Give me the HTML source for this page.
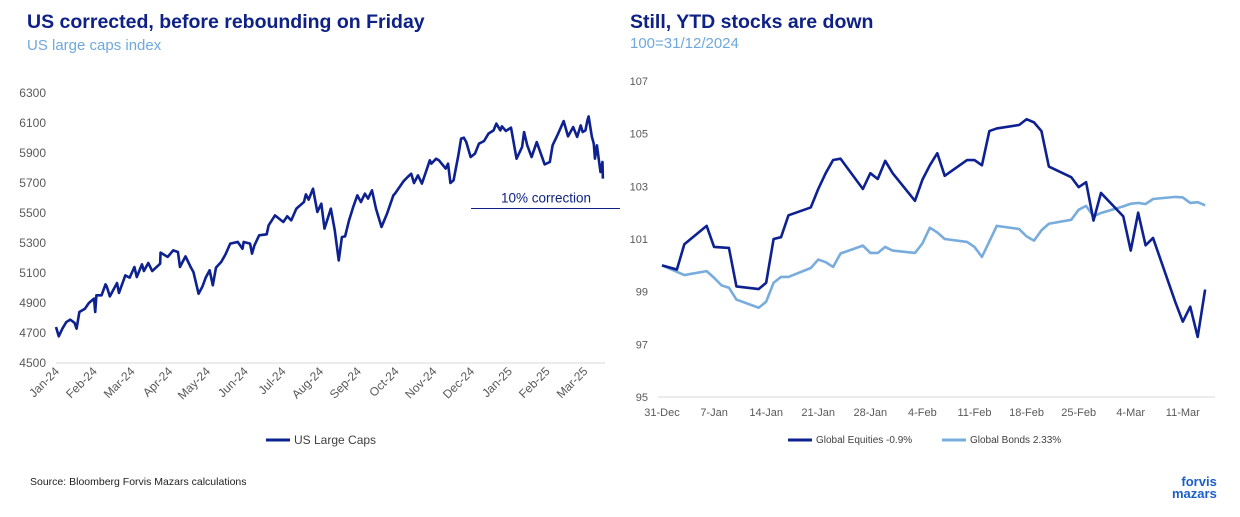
<!DOCTYPE html>
<html><head><meta charset="utf-8"><style>
body{margin:0;width:1240px;height:517px;background:#fff;overflow:hidden;font-family:"Liberation Sans",Arial,sans-serif;position:relative}
.t{position:absolute;white-space:nowrap}
</style></head><body>
<div class="t" style="left:27px;top:11px;font-size:19.5px;font-weight:bold;color:#0e2186">US corrected, before rebounding on Friday</div>
<div class="t" style="left:27px;top:37px;font-size:15px;color:#6fa8dc">US large caps index</div>
<div class="t" style="left:630px;top:11px;font-size:19.5px;font-weight:bold;color:#0e2186">Still, YTD stocks are down</div>
<div class="t" style="left:630px;top:35px;font-size:15px;color:#6fa8dc">100=31/12/2024</div>
<div class="t" style="left:30px;top:476px;font-size:10.5px;color:#222">Source: Bloomberg Forvis Mazars calculations</div>
<div class="t" style="left:1172px;top:476px;font-size:13px;font-weight:bold;color:#1a5fc9;line-height:12px;text-align:right">forvis<br>mazars</div>
<svg id="c1" width="620" height="470" style="position:absolute;left:0;top:0"></svg>
<svg id="c2" width="620" height="470" style="position:absolute;left:620px;top:0"></svg>
<script>
const usTimes=[0,0.07,0.16,0.26,0.36,0.47,0.52,0.59,0.73,0.83,0.96,0.99,1.02,1.15,1.25,1.28,1.36,1.54,1.59,1.75,1.86,1.98,2.04,2.17,2.22,2.33,2.43,2.63,2.64,2.82,2.96,3.08,3.13,3.27,3.40,3.47,3.60,3.70,3.78,3.88,3.96,4.04,4.17,4.28,4.40,4.59,4.71,4.74,4.90,4.95,5.01,5.13,5.32,5.37,5.53,5.74,5.84,5.94,6.07,6.26,6.31,6.38,6.49,6.60,6.70,6.78,6.86,6.94,7.04,7.14,7.22,7.30,7.40,7.51,7.61,7.70,7.80,7.88,7.98,8.08,8.22,8.36,8.52,8.56,8.78,8.88,8.97,9.04,9.14,9.24,9.36,9.44,9.48,9.60,9.67,9.84,9.90,9.96,10.04,10.16,10.23,10.30,10.36,10.47,10.58,10.68,10.81,10.92,11.05,11.12,11.22,11.26,11.36,11.49,11.63,11.77,11.82,11.90,12.01,12.14,12.34,12.47,12.54,12.68,12.82,12.93,13.06,13.16,13.25,13.30,13.37,13.42,13.45,13.53,13.58,13.61,13.66,13.71,13.75,13.80,13.81];
const usValues=[4740,4678,4729,4773,4789,4767,4729,4840,4862,4900,4929,4840,4951,4951,5024,5011,4944,5033,4967,5084,5069,5140,5073,5158,5113,5167,5113,5162,5236,5207,5251,5240,5140,5211,5140,5107,4962,5011,5069,5118,5018,5136,5173,5224,5296,5307,5262,5307,5296,5229,5284,5351,5358,5418,5484,5440,5478,5451,5529,5573,5624,5589,5662,5507,5562,5396,5462,5529,5384,5184,5340,5344,5451,5544,5618,5573,5629,5596,5651,5529,5407,5496,5618,5629,5713,5740,5762,5700,5751,5696,5789,5851,5829,5862,5851,5796,5829,5700,5718,5884,5996,6002,5973,5873,5896,5962,5980,6029,6051,6096,6051,6078,6047,6069,5862,5940,6040,5951,5873,5973,5824,5840,5951,6029,6113,6011,6073,6007,6084,6040,6051,6118,6144,6011,5962,5862,5951,5851,5773,5840,5729,5673,5584,5562,5513,5640];
const usTicks=[4500,4700,4900,5100,5300,5500,5700,5900,6100,6300];
const usMonths=["Jan-24","Feb-24","Mar-24","Apr-24","May-24","Jun-24","Jul-24","Aug-24","Sep-24","Oct-24","Nov-24","Dec-24","Jan-25","Feb-25","Mar-25"];
const correctionLevel=5530;
const ytdDays=[0,2,3,6,7,9,10,13,14,15,16,17,20,21,22,23,24,27,28,29,30,31,34,35,36,37,38,41,42,43,44,45,48,49,50,51,52,55,56,57,58,59,62,63,64,65,66,69,70,71,72,73];
const equities=[100,99.84,100.8,101.5,100.7,100.66,99.2,99.1,99.34,101,101.07,101.9,102.2,102.9,103.5,104,104.05,102.9,103.5,103.28,103.97,103.5,102.45,103.25,103.8,104.26,103.4,104,104,103.8,105.1,105.2,105.33,105.55,105.43,105.1,103.75,103.35,102.97,103.16,101.7,102.75,101.86,100.56,102,100.76,101.04,98.6,97.86,98.43,97.28,99.08];
const bondDays=[0,3,6,7,8,9,10,13,14,15,16,17,20,21,22,23,24,27,28,29,30,31,34,35,36,37,38,41,42,43,44,45,48,49,50,51,52,55,56,57,58,59,62,63,64,65,66,69,70,71,72,73];
const bonds=[100,99.63,99.78,99.53,99.24,99.15,98.7,98.39,98.62,99.34,99.56,99.56,99.9,100.22,100.12,99.94,100.45,100.75,100.47,100.47,100.7,100.56,100.47,100.83,101.43,101.25,101,100.89,100.7,100.32,100.91,101.5,101.38,101.1,100.94,101.33,101.58,101.73,102.11,102.26,101.86,101.99,102.24,102.34,102.37,102.33,102.52,102.6,102.58,102.37,102.4,102.28];
const ytdTicks=[95,97,99,101,103,105,107];
const ytdLabels=["31-Dec","7-Jan","14-Jan","21-Jan","28-Jan","4-Feb","11-Feb","18-Feb","25-Feb","4-Mar","11-Mar"];

const NS="http://www.w3.org/2000/svg";
function mk(svg,tag,attrs,text){const e=document.createElementNS(NS,tag);for(const k in attrs)e.setAttribute(k,attrs[k]);if(text!==undefined)e.textContent=text;svg.appendChild(e);return e;}
const NAVY="#0e2190",LIGHT="#78acdc";

// left chart
const s1=document.getElementById('c1');
const lx=m=>56+m*39.6, ly=v=>363-(v-4500)*0.15;
let e=mk(s1,'line',{x1:56,x2:605,y1:363,y2:363,stroke:'#d9d9d9','stroke-width':1});

usTicks.forEach(t=>{const el=mk(s1,'text',{x:46,y:ly(t)+4,'text-anchor':'end','font-size':12,fill:'#595959'},t);
});
usMonths.forEach((m,i)=>{const x=lx(i*0.953)+4,y=372;const el=mk(s1,'text',{x:x,y:y,'text-anchor':'end','font-size':12,fill:'#595959',transform:`rotate(-45 ${x} ${y})`},m);
});
e=mk(s1,'polyline',{points:usTimes.map((t,i)=>lx(t)+','+ly(usValues[i])).join(' '),fill:'none',stroke:NAVY,'stroke-width':2.6,'stroke-linejoin':'round'});

e=mk(s1,'line',{x1:471,x2:620,y1:ly(correctionLevel),y2:ly(correctionLevel),stroke:'#0e2186','stroke-width':1});

e=mk(s1,'text',{x:501,y:ly(correctionLevel)-6,'font-size':13.5,fill:'#0e2186','font-family':'Liberation Sans, sans-serif'},'10% correction');

e=mk(s1,'line',{x1:266,x2:290,y1:440,y2:440,stroke:NAVY,'stroke-width':3});

e=mk(s1,'text',{x:294,y:444,'font-size':12,fill:'#404040'},'US Large Caps');


// right chart (local coords offset 620)
const s2=document.getElementById('c2');
const rx=d=>42+d*7.44, ry=v=>397-(v-95)*26.33;
e=mk(s2,'line',{x1:38,x2:595,y1:397,y2:397,stroke:'#d9d9d9','stroke-width':1});

ytdTicks.forEach(t=>{const el=mk(s2,'text',{x:28,y:ry(t)+4,'text-anchor':'end','font-size':11,fill:'#595959'},t);
});
ytdLabels.forEach((l,i)=>{const el=mk(s2,'text',{x:rx(i*7),y:416,'text-anchor':'middle','font-size':11,fill:'#595959'},l);
});
e=mk(s2,'polyline',{points:bondDays.map((d,i)=>rx(d)+','+ry(bonds[i])).join(' '),fill:'none',stroke:LIGHT,'stroke-width':2.6,'stroke-linejoin':'round'});

e=mk(s2,'polyline',{points:ytdDays.map((d,i)=>rx(d)+','+ry(equities[i])).join(' '),fill:'none',stroke:NAVY,'stroke-width':2.6,'stroke-linejoin':'round'});

e=mk(s2,'line',{x1:168,x2:192,y1:440,y2:440,stroke:NAVY,'stroke-width':3});

e=mk(s2,'text',{x:196,y:443,'font-size':10,fill:'#404040'},'Global Equities -0.9%');

e=mk(s2,'line',{x1:322,x2:346,y1:440,y2:440,stroke:LIGHT,'stroke-width':3});

e=mk(s2,'text',{x:350,y:443,'font-size':10,fill:'#404040'},'Global Bonds 2.33%');

</script>
</body></html>
